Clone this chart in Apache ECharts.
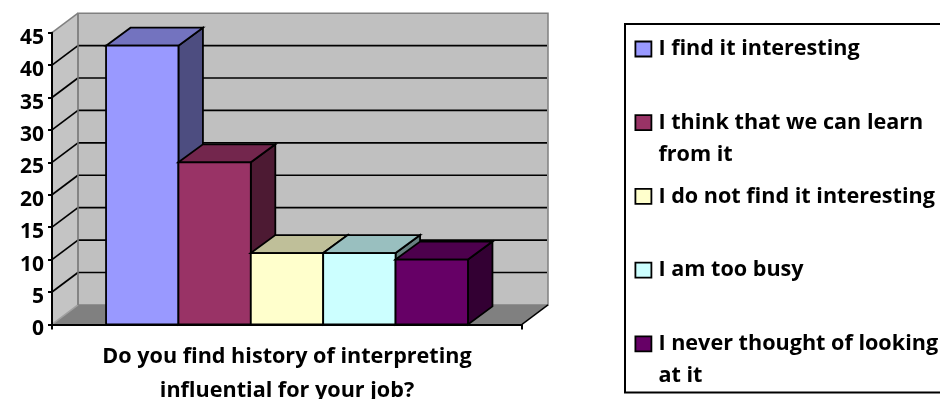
<!DOCTYPE html>
<html>
<head>
<meta charset="utf-8">
<style>html,body{margin:0;padding:0;background:#fff}#chart{width:940px;height:399px}</style>
<script src="https://cdn.jsdelivr.net/npm/echarts@6/dist/echarts.min.js"></script>
</head>
<body>
<div id="chart"></div>
<script>
// Survey answers shown as a single cluster of extruded columns.
const categories = ['Do you find history of interpreting\ninfluential for your job?'];
const answers = ['I find it interesting', 'I think that we can learn from it', 'I do not find it interesting', 'I am too busy', 'I never thought of looking at it'];
const answerLines = [['I find it interesting'], ['I think that we can learn', 'from it'], ['I do not find it interesting'], ['I am too busy'], ['I never thought of looking', 'at it']];
const counts = [43, 25, 11, 11, 10];
const fills = ['#9999FF', '#993366', '#FFFFCC', '#CCFFFF', '#660066'];
const tickValues = [0, 5, 10, 15, 20, 25, 30, 35, 40, 45];

const FONT = '"Open Sans", Lato, sans-serif';
const TEXT_SIZE = 21.6;
// Oblique projection of the chart depth.
const WALL_DX = 26, WALL_DY = -19.5;
const BAR_DX = 24.5, BAR_DY = -18;

function shade(hex, f) {
  const n = parseInt(hex.slice(1), 16);
  const c = [n >> 16, (n >> 8) & 255, n & 255].map(v => Math.round(v * f));
  return 'rgb(' + c.join(',') + ')';
}

function poly(points, fill, stroke, lineWidth) {
  return {
    type: 'polygon',
    shape: { points },
    style: { fill, stroke: stroke || null, lineWidth: lineWidth || 0, lineJoin: 'miter' }
  };
}
function seg(a, b, stroke, lineWidth) {
  return {
    type: 'line',
    shape: { x1: a[0], y1: a[1], x2: b[0], y2: b[1] },
    style: { stroke, lineWidth }
  };
}

// Side wall, back wall, floor and gridlines, placed from the axis scales.
function renderWalls(params, api) {
  const band = api.size([1, 0])[0];
  const cx = api.coord([0, 0])[0];
  const x0 = cx - band / 2, x1 = cx + band / 2;
  const y0 = api.coord([0, 0])[1];
  const yT = api.coord([0, tickValues[tickValues.length - 1]])[1];
  const kids = [];
  kids.push(poly([[x0, y0], [x0, yT], [x0 + WALL_DX, yT + WALL_DY], [x0 + WALL_DX, y0 + WALL_DY]], '#c4c4c4'));
  kids.push(poly([[x0 + WALL_DX, yT + WALL_DY], [x1 + WALL_DX, yT + WALL_DY], [x1 + WALL_DX, y0 + WALL_DY], [x0 + WALL_DX, y0 + WALL_DY]], '#c0c0c0', '#808080', 1.5));
  kids.push(poly([[x0, y0], [x1, y0], [x1 + WALL_DX, y0 + WALL_DY], [x0 + WALL_DX, y0 + WALL_DY]], '#808080'));
  tickValues.slice(1, -1).forEach(v => {
    const y = api.coord([0, v])[1];
    kids.push(seg([x0, y], [x0 + WALL_DX, y + WALL_DY], '#000', 1.7));
    kids.push(seg([x0 + WALL_DX, y + WALL_DY], [x1 + WALL_DX - 1, y + WALL_DY], '#000', 1.7));
  });
  kids.push(seg([x0, yT], [x0 + WALL_DX, yT + WALL_DY], '#808080', 1.5));
  kids.push(seg([x0, y0], [x0 + WALL_DX, y0 + WALL_DY], '#a0a0a0', 1.5));
  kids.push(seg([x0 + WALL_DX, yT + WALL_DY], [x0 + WALL_DX, y0 + WALL_DY], '#808080', 1.5));
  kids.push(seg([x1, y0], [x1 + WALL_DX, y0 + WALL_DY], '#000', 1.4));
  return { type: 'group', children: kids };
}

// One extruded column: front face, top face and right-hand face.
function renderColumn(index) {
  return function (params, api) {
    const layout = api.barLayout({ count: answers.length, barGap: '0%', barCategoryGap: '23%' })[index];
    const base = api.coord([api.value(0), 0]);
    const top = api.coord([api.value(0), api.value(1)]);
    const l = base[0] + layout.offset, r = l + layout.width;
    const color = fills[index];
    const edge = 1.8;
    return {
      type: 'group',
      children: [
        poly([[r, top[1]], [r + BAR_DX, top[1] + BAR_DY], [r + BAR_DX, base[1] + BAR_DY], [r, base[1]]], shade(color, 0.5), '#000', edge),
        poly([[l, top[1]], [l + BAR_DX, top[1] + BAR_DY], [r + BAR_DX, top[1] + BAR_DY], [r, top[1]]], shade(color, 0.75), '#000', edge),
        poly([[l, top[1]], [r, top[1]], [r, base[1]], [l, base[1]]], color, '#000', edge)
      ]
    };
  };
}

const textStyle = { fontFamily: FONT, fontWeight: 'bold', color: '#000' };

const series = [{
  type: 'custom',
  name: 'walls',
  silent: true,
  z: 1,
  renderItem: renderWalls,
  data: [[0, 0]],
  encode: { x: 0, y: 1 }
}].concat(answers.map((name, i) => ({
  type: 'custom',
  name,
  z: 3 + i,
  renderItem: renderColumn(i),
  itemStyle: { color: fills[i] },
  data: [[0, counts[i]]],
  encode: { x: 0, y: 1 }
})));

const chart = echarts.init(document.getElementById('chart'), null, { renderer: 'canvas' });
chart.setOption({
  animation: false,
  backgroundColor: '#fff',
  grid: { left: 52, right: 418, top: 32.7, bottom: 74.6, outerBoundsMode: 'none' },
  xAxis: {
    type: 'category',
    data: categories,
    axisLine: { show: true, lineStyle: { color: '#000', width: 2 } },
    axisTick: { show: true, length: 5, lineStyle: { color: '#000', width: 2 } },
    axisLabel: { ...textStyle, fontSize: TEXT_SIZE, lineHeight: 34, margin: 15, interval: 0, align: 'center' },
    z: 10
  },
  yAxis: {
    type: 'value',
    min: 0,
    max: 45,
    interval: 5,
    splitLine: { show: false },
    axisLine: { show: true, lineStyle: { color: '#000', width: 2 } },
    axisTick: { show: true, length: 4, lineStyle: { color: '#000', width: 2 } },
    axisLabel: { ...textStyle, fontSize: 21, margin: 8, verticalAlign: 'top', lineHeight: 10 },
    z: 10
  },
  graphic: [{
    type: 'rect',
    z: -1,
    shape: { x: 625, y: 24, width: 330, height: 368.5 },
    style: { fill: '#fff', stroke: '#000', lineWidth: 2 }
  }],
  legend: {
    orient: 'vertical',
    left: 634.5,
    top: 12,
    height: 900,
    padding: 0,
    itemGap: -6.3,
    itemWidth: 16,
    itemHeight: 15,
    selectedMode: false,
    data: answers.map((name, i) => ({
      name,
      icon: 'rect',
      itemStyle: { color: fills[i], borderColor: '#000', borderWidth: 1.8 }
    })),
    formatter: name => {
      const lines = answerLines[answers.indexOf(name)];
      return '{gap| }\n{line|' + lines[0] + '}\n{tail|' + (lines[1] || ' ') + '}';
    },
    textStyle: {
      ...textStyle,
      fontSize: TEXT_SIZE,
      rich: {
        gap: { fontSize: 1, lineHeight: 10, height: 10 },
        line: { ...textStyle, fontSize: TEXT_SIZE, lineHeight: 54, height: 54, padding: [0, 0, 0, 2] },
        tail: { ...textStyle, fontSize: TEXT_SIZE, lineHeight: 10, height: 10, padding: [0, 0, 0, 2] }
      }
    }
  },
  series
});
</script>
</body>
</html>
